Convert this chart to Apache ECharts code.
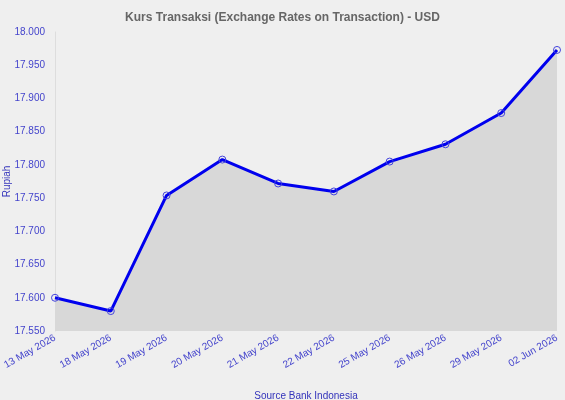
<!DOCTYPE html>
<html>
<head>
<meta charset="utf-8">
<script src="https://cdn.jsdelivr.net/npm/echarts@6/dist/echarts.min.js"></script>
<style>
  html, body { margin: 0; padding: 0; background: #efefef; }
  #chart { width: 565px; height: 400px; }
</style>
</head>
<body>
<div id="chart"></div>
<script>
// tanggal dan kurs transaksi USD
var dates = ['13 May 2026', '18 May 2026', '19 May 2026', '20 May 2026', '21 May 2026',
  '22 May 2026', '25 May 2026', '26 May 2026', '29 May 2026', '02 Jun 2026'];
var kurs = [17600, 17580, 17754, 17808, 17772, 17760, 17805, 17831, 17878, 17973];

var chart = echarts.init(document.getElementById('chart'));

function fmt(v) {
  // 17550 -> 17.550
  var s = String(Math.round(v));
  return s.replace(/\B(?=(\d{3})+(?!\d))/g, '.');
}

var option = {
  backgroundColor: '#efefef',
  animation: false,
  title: {
    text: 'Kurs Transaksi (Exchange Rates on Transaction) - USD',
    left: 'center',
    top: 7,
    textStyle: { color: '#666', fontSize: 12, fontWeight: 'bold', fontFamily: 'Liberation Sans' }
  },
  grid: { left: 55, right: 8, top: 32, bottom: 69, outerBoundsMode: 'none', containLabel: false },
  xAxis: {
    type: 'category',
    data: dates,
    boundaryGap: false,
    name: 'Source Bank Indonesia',
    nameLocation: 'middle',
    nameGap: 60,
    nameMoveOverlap: false,
    nameTextStyle: { color: '#3333bb', fontSize: 10, fontFamily: 'Liberation Sans' },
    axisLine: { show: false },
    axisTick: { show: false },
    axisLabel: {
      rotate: 30,
      interval: 0,
      margin: 6,
      color: '#4444cc',
      fontSize: 10,
      fontFamily: 'Liberation Sans'
    },
    splitLine: { show: false }
  },
  yAxis: {
    type: 'value',
    min: 17550,
    max: 18000,
    interval: 50,
    name: 'Rupiah',
    nameLocation: 'middle',
    nameGap: 43,
    nameMoveOverlap: false,
    nameTextStyle: { color: '#3333bb', fontSize: 10, fontFamily: 'Liberation Sans' },
    axisLine: { show: true, lineStyle: { color: '#dddddd', width: 1 } },
    axisTick: { show: false },
    axisLabel: {
      color: '#4444cc',
      fontSize: 10,
      margin: 10,
      fontFamily: 'Liberation Sans',
      formatter: fmt
    },
    splitLine: { show: false }
  },
  series: [{
    type: 'line',
    data: kurs,
    symbol: 'circle',
    symbolSize: 7,
    lineStyle: { color: '#0000ee', width: 3 },
    itemStyle: { color: 'rgba(0,0,0,0)', borderColor: '#4444dd', borderWidth: 1 },
    areaStyle: { color: '#d8d8d8', opacity: 1 }
  }]
};

chart.setOption(option);
</script>
</body>
</html>
